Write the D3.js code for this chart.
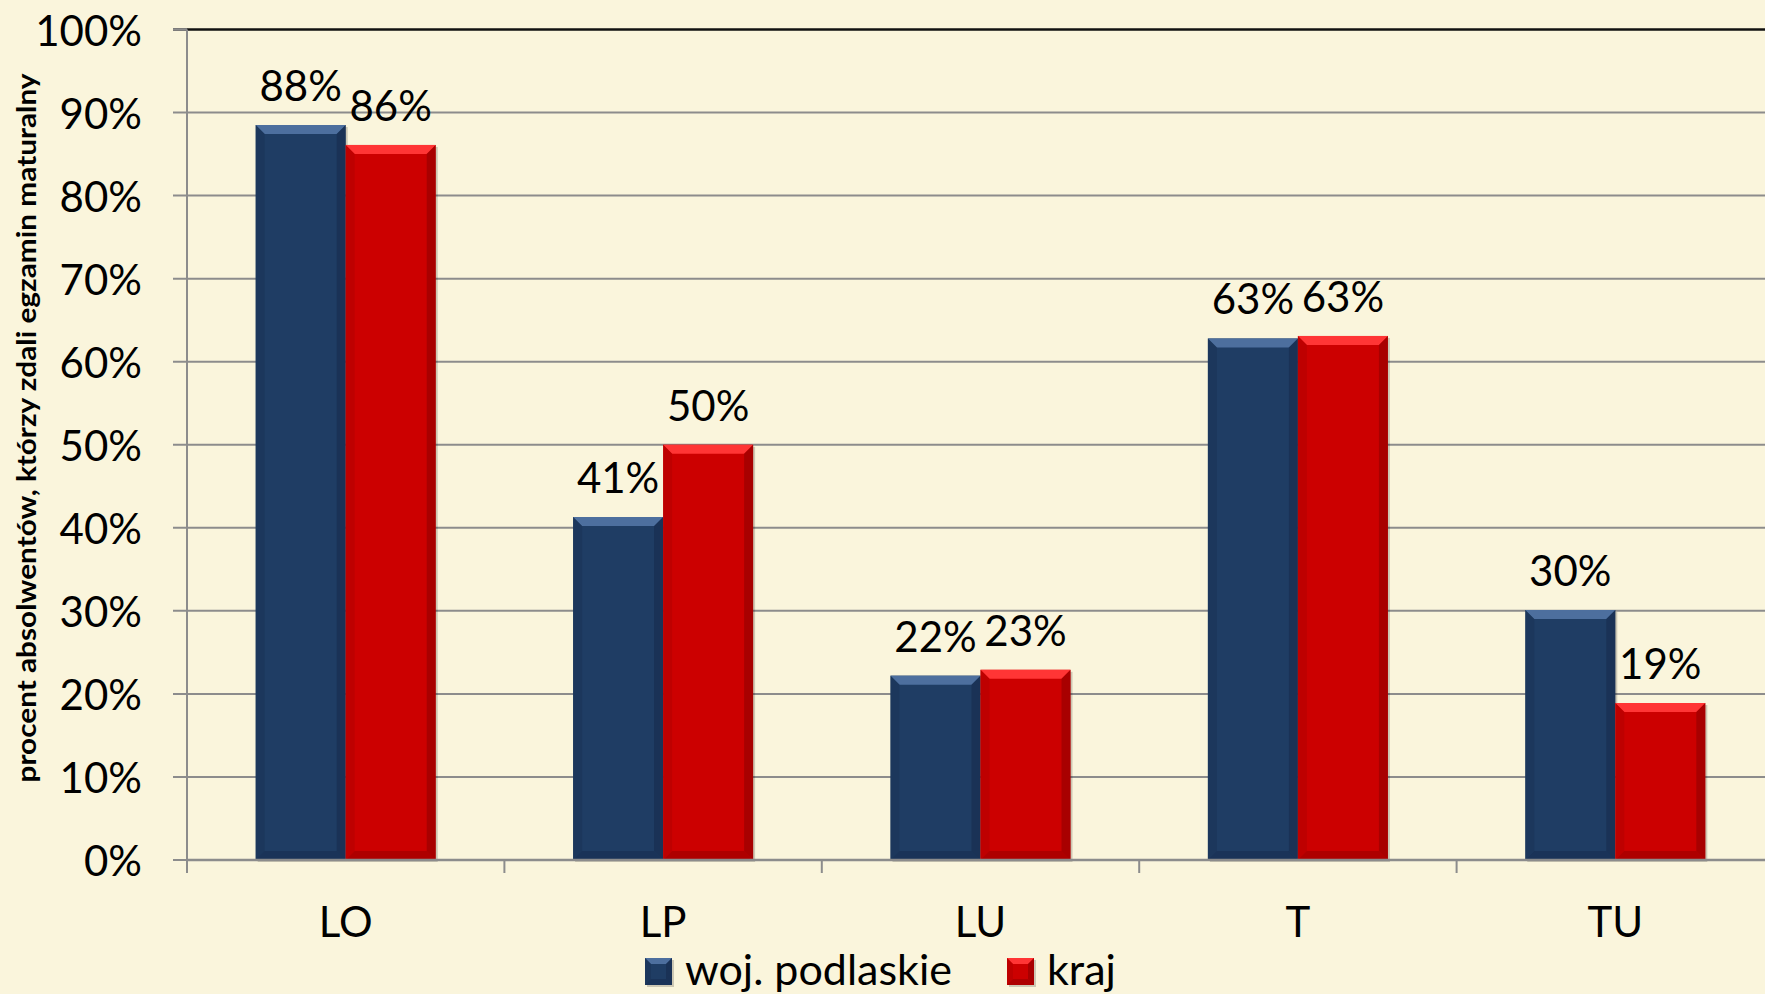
<!DOCTYPE html>
<html>
<head>
<meta charset="utf-8">
<script src="https://cdn.jsdelivr.net/npm/d3@7"></script>
<style>
  html, body { margin: 0; padding: 0; background: #faf5dc; }
  svg { display: block; }
  text { font-family: Lato, "Open Sans", sans-serif; fill: #000; }
</style>
</head>
<body>
<svg id="chart" width="1765" height="994"></svg>
<script>
const categories = ["LO", "LP", "LU", "T", "TU"];
const seriesNames = ["woj. podlaskie", "kraj"];
const podlaskie = [88.5, 41.3, 22.2, 62.8, 30.1];
const kraj = [86.1, 50.0, 22.9, 63.1, 18.9];
const podlaskieLabels = ["88%", "41%", "22%", "63%", "30%"];
const krajLabels = ["86%", "50%", "23%", "63%", "19%"];
const yTicks = [0, 10, 20, 30, 40, 50, 60, 70, 80, 90, 100];
const yTitle = "procent absolwentów, którzy zdali egzamin maturalny";

const W = 1765, H = 994;
const plotLeft = 187, plotTop = 29.5, plotBottom = 860;
const band = 317.4;
const svg = d3.select("#chart");

const colors = {
  "woj. podlaskie": { base: "#1f3d64", light: "#4d6f9e", dark: "#15294a", side: "#1a3457" },
  "kraj": { base: "#cc0000", light: "#ff3535", dark: "#8a0000", side: "#b40000" }
};

const y = d3.scaleLinear().domain([0, 100]).range([plotBottom, plotTop]);
const x0 = d3.scaleBand().domain(categories).range([plotLeft, plotLeft + band * categories.length]).padding(0);
const x1 = d3.scaleBand().domain(seriesNames).range([0, x0.bandwidth()]).paddingInner(0).paddingOuter(0.763);

// gridlines
svg.append("g").selectAll("line").data(yTicks).join("line")
  .attr("x1", plotLeft - 14).attr("x2", W + 10)
  .attr("y1", d => y(d)).attr("y2", d => y(d))
  .attr("stroke", d => d === 100 ? "#111" : "#8c8c8c")
  .attr("stroke-width", d => d === 100 ? 2.5 : 2);
svg.append("line").attr("x1", plotLeft - 14).attr("x2", plotLeft).attr("y1", y(100)).attr("y2", y(100))
  .attr("stroke", "#8c8c8c").attr("stroke-width", 2.5);

// y axis line
svg.append("line").attr("x1", plotLeft).attr("x2", plotLeft).attr("y1", y(100)).attr("y2", plotBottom + 13)
  .attr("stroke", "#8c8c8c").attr("stroke-width", 2);

// x ticks at category boundaries
svg.append("g").selectAll("line").data(categories).join("line")
  .attr("x1", d => x0(d)).attr("x2", d => x0(d))
  .attr("y1", plotBottom).attr("y2", plotBottom + 13)
  .attr("stroke", "#8c8c8c").attr("stroke-width", 2);

// y tick labels
svg.append("g").selectAll("text").data(yTicks).join("text")
  .attr("x", 142).attr("y", d => y(d))
  .attr("text-anchor", "end").attr("dominant-baseline", "central")
  .attr("font-size", 42)
  .text(d => d + "%");

function bevelBar(g, x, w, yTop, yBot, c, b) {
  b = b || 9;
  const h = yBot - yTop;
  g.append("rect").attr("x", x + 2).attr("y", yTop + 2).attr("width", w).attr("height", h)
    .attr("fill", "rgba(0,0,0,0.18)");
  g.append("rect").attr("x", x).attr("y", yTop).attr("width", w).attr("height", h).attr("fill", c.base);
  g.append("polygon").attr("points", [[x, yTop], [x + w, yTop], [x + w - b, yTop + b], [x + b, yTop + b]].join(" "))
    .attr("fill", c.light);
  g.append("polygon").attr("points", [[x, yTop], [x + b, yTop + b], [x + b, yBot - b], [x, yBot]].join(" "))
    .attr("fill", c.side).attr("opacity", 0.6);
  g.append("polygon").attr("points", [[x + w, yTop], [x + w - b, yTop + b], [x + w - b, yBot - b], [x + w, yBot]].join(" "))
    .attr("fill", c.dark).attr("opacity", 0.55);
  g.append("polygon").attr("points", [[x, yBot], [x + b, yBot - b], [x + w - b, yBot - b], [x + w, yBot]].join(" "))
    .attr("fill", c.dark).attr("opacity", 0.45);
}

const barsG = svg.append("g");
const dataSets = { "woj. podlaskie": podlaskie, "kraj": kraj };
const labelSets = { "woj. podlaskie": podlaskieLabels, "kraj": krajLabels };
categories.forEach((cat, i) => {
  seriesNames.forEach(s => {
    const v = dataSets[s][i];
    bevelBar(barsG, x0(cat) + x1(s), x1.bandwidth(), y(v), y(0), colors[s]);
  });
});
const labG = svg.append("g");
categories.forEach((cat, i) => {
  seriesNames.forEach(s => {
    const v = dataSets[s][i];
    labG.append("text")
      .attr("x", x0(cat) + x1(s) + x1.bandwidth() / 2)
      .attr("y", y(v) - 24)
      .attr("text-anchor", "middle")
      .attr("font-size", 42)
      .text(labelSets[s][i]);
  });
});

// x axis baseline
svg.append("line").attr("x1", plotLeft).attr("x2", W + 10).attr("y1", plotBottom).attr("y2", plotBottom)
  .attr("stroke", "#8c8c8c").attr("stroke-width", 2.5);

// category labels
svg.append("g").selectAll("text").data(categories).join("text")
  .attr("x", d => x0(d) + x0.bandwidth() / 2).attr("y", 937)
  .attr("text-anchor", "middle").attr("font-size", 42)
  .text(d => d);

// y title
svg.append("text")
  .attr("transform", `translate(36, 428) rotate(-90)`)
  .attr("text-anchor", "middle").attr("font-size", 26).attr("font-weight", "bold")
  .attr("textLength", 709).attr("lengthAdjust", "spacingAndGlyphs")
  .text(yTitle);

// legend
const legend = svg.append("g");
const legendItems = [{ name: seriesNames[0], x: 645 }, { name: seriesNames[1], x: 1007 }];
legendItems.forEach(it => {
  bevelBar(legend, it.x, 27, 958, 985, colors[it.name], 6);
  legend.append("text").attr("x", it.x + 40).attr("y", 985).attr("font-size", 43).text(it.name);
});
</script>
</body>
</html>
